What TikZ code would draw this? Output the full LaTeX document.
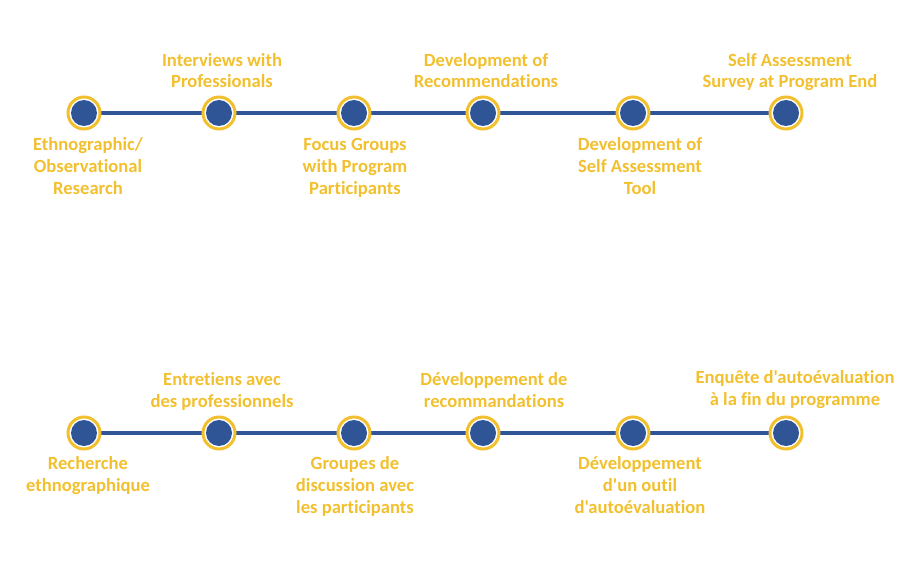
\documentclass[tikz,border=0pt]{standalone}
\usepackage{fontspec}
\setmainfont{Carlito}[Ligatures={TeXOff,NoCommon}]
\definecolor{ylw}{RGB}{242,192,46}
\definecolor{blu}{RGB}{47,85,151}
\begin{document}
\begin{tikzpicture}[x=1pt,y=-1pt,
  ring/.style={circle,draw=ylw,line width=3pt,fill=white,minimum size=32pt,inner sep=0pt},
  dot/.style={circle,fill=blu,minimum size=26pt,inner sep=0pt},
  lbl/.style={text=ylw,font=\bfseries\fontsize{18.6}{21.7}\selectfont,align=center,inner sep=0pt,anchor=base},
  tl/.style={blu,line width=4pt}]
\useasboundingbox (0,0) rectangle (907,580);
\foreach \n/\x in {1/84,2/219,3/354,4/483,5/633,6/786}{
  \coordinate (t\n) at (\x,113);
  \coordinate (b\n) at (\x,433);
}
\draw[tl] (t1) -- (t6);
\draw[tl] (b1) -- (b6);
\foreach \n in {1,...,6}{
  \node[ring] (rt\n) at (t\n) {};
  \node[dot] (dt\n) at (t\n) {};
  \node[ring] (rb\n) at (b\n) {};
  \node[dot] (db\n) at (b\n) {};
}
% top labels (y = baseline of last line)
\node[lbl] (l1) at (88,194) {Ethnographic/\\Observational\\Research};
\node[lbl] (l2) at (222,88) {Interviews with\\Professionals};
\node[lbl] (l3) at (355,194) {Focus Groups\\with Program\\Participants};
\node[lbl] (l4) at (486,88) {Development of\\Recommendations};
\node[lbl] (l5) at (640,194) {Development of\\Self Assessment\\Tool};
\node[lbl] (l6) at (790,88) {Self Assessment\\Survey at Program End};
% bottom labels
\node[lbl] (m1) at (88,491) {Recherche\\ethnographique};
\node[lbl] (m2) at (222,407) {Entretiens avec\\des professionnels};
\node[lbl] (m3) at (355,513) {Groupes de\\discussion avec\\les participants};
\node[lbl] (m4) at (494,407) {Développement de\\recommandations};
\node[lbl] (m5) at (640,513) {Développement\\d'un outil\\d'autoévaluation};
\node[lbl] (m6) at (795,405) {Enquête d'autoévaluation\\à la fin du programme};
\end{tikzpicture}
\end{document}
